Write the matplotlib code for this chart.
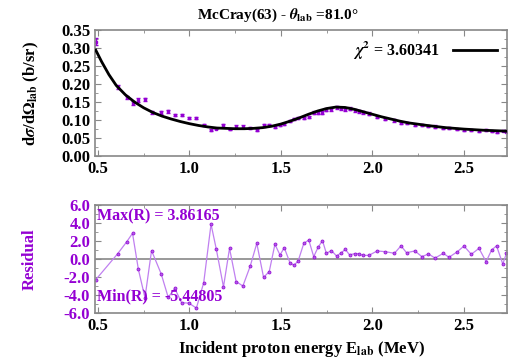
import matplotlib
matplotlib.use("Agg")
import matplotlib.pyplot as plt
from matplotlib.ticker import MultipleLocator, FormatStrFormatter

# incident proton energies (MeV)
energy = [0.488, 0.607, 0.658, 0.689, 0.721, 0.757, 0.793, 0.846, 0.884, 0.920,
          0.957, 0.997, 1.038, 1.078, 1.118, 1.147, 1.186, 1.219, 1.255, 1.292,
          1.332, 1.368, 1.405, 1.436, 1.467, 1.495, 1.518, 1.549, 1.571, 1.594,
          1.625, 1.652, 1.679, 1.703, 1.727, 1.748, 1.776, 1.804, 1.830, 1.852,
          1.875, 1.902, 1.924, 1.947, 1.980, 2.026, 2.071, 2.120, 2.156, 2.186,
          2.232, 2.270, 2.306, 2.342, 2.387, 2.418, 2.464, 2.500, 2.540, 2.582,
          2.621, 2.651, 2.678, 2.712, 2.732]
# measured cross section (b/sr)
xsec = [0.317, 0.192, 0.163, 0.147, 0.155, 0.157, 0.122, 0.121, 0.124, 0.114,
        0.114, 0.105, 0.106, 0.087, 0.073, 0.076, 0.085, 0.074, 0.082, 0.082,
        0.078, 0.073, 0.085, 0.086, 0.081, 0.087, 0.088, 0.098, 0.103, 0.106,
        0.105, 0.109, 0.120, 0.120, 0.120, 0.129, 0.130, 0.135, 0.133, 0.130,
        0.131, 0.127, 0.124, 0.122, 0.117, 0.109, 0.104, 0.099, 0.092, 0.091,
        0.087, 0.086, 0.083, 0.082, 0.078, 0.078, 0.074, 0.072, 0.073, 0.070,
        0.072, 0.069, 0.067, 0.071, 0.068]
xsec_err = [0.010, 0.006, 0.005, 0.005, 0.005, 0.005, 0.004, 0.004, 0.004, 0.004,
            0.004, 0.003, 0.003, 0.003, 0.002, 0.002, 0.003, 0.002, 0.003, 0.003,
            0.003, 0.002, 0.003, 0.003, 0.003, 0.003, 0.003, 0.003, 0.003, 0.003,
            0.003, 0.003, 0.004, 0.004, 0.004, 0.004, 0.004, 0.004, 0.004, 0.004,
            0.004, 0.004, 0.004, 0.004, 0.004, 0.003, 0.003, 0.003, 0.003, 0.003,
            0.003, 0.003, 0.003, 0.003, 0.002, 0.002, 0.002, 0.002, 0.002, 0.002,
            0.002, 0.002, 0.002, 0.002, 0.002]
# residuals
resid = [-2.30, 0.56, 1.93, 2.85, -1.15, -4.30, 0.93, -1.67, -4.26, -3.26,
         -4.85, -4.90, -5.44805, -2.63, 3.86165, 1.07, -3.10, 1.18, -2.50, -3.00,
         -0.80, 1.74, -2.04, -1.40, 1.63, 0.44, 1.26, -0.41, -0.70, -0.22,
         1.74, 2.10, 0.26, 1.30, 2.04, 0.63, 0.93, 0.33, 0.70, 1.07,
         0.45, 0.60, 0.60, 0.40, 0.40, 0.89, 0.81, 0.63, 1.46, 0.70,
         0.89, 0.26, 0.56, 0.10, 0.63, 0.19, 0.81, 1.44, 0.52, 1.18,
         -0.30, 1.00, 1.46, -0.56, 0.63]

# fitted curve
fit_e = [0.488, 0.52, 0.56, 0.60, 0.65, 0.70, 0.75, 0.80, 0.85, 0.90, 0.95,
         1.00, 1.05, 1.10, 1.15, 1.20, 1.25, 1.30, 1.35, 1.40, 1.45, 1.50,
         1.55, 1.60, 1.65, 1.70, 1.75, 1.80, 1.85, 1.90, 1.95, 2.00, 2.05,
         2.10, 2.15, 2.20, 2.30, 2.40, 2.50, 2.60, 2.70, 2.732]
fit_y = [0.294, 0.262, 0.226, 0.196, 0.170, 0.150, 0.134, 0.121, 0.111, 0.103, 0.096,
         0.090, 0.085, 0.081, 0.078, 0.077, 0.076, 0.076, 0.077, 0.079, 0.083, 0.089,
         0.097, 0.106, 0.116, 0.125, 0.132, 0.136, 0.135, 0.130, 0.123, 0.116, 0.109,
         0.103, 0.097, 0.092, 0.085, 0.079, 0.075, 0.072, 0.070, 0.069]

chi2 = 3.60341
purple = "#9400D3"

plt.rcParams["font.family"] = ["Liberation Serif", "DejaVu Serif"]
plt.rcParams["font.weight"] = "bold"
plt.rcParams["mathtext.fontset"] = "stix"

fig = plt.figure(figsize=(5.08, 3.64), dpi=100)
ax1 = fig.add_axes([0.187, 0.571, 0.811, 0.347])
ax2 = fig.add_axes([0.187, 0.140, 0.811, 0.297])

ax1.errorbar(energy, xsec, yerr=xsec_err, fmt="s", ms=1.8, color=purple,
             ecolor=purple, elinewidth=1, capsize=1.5, zorder=2)
ax1.plot(fit_e, fit_y, color="black", lw=2, zorder=3,
         label=r"$\chi^2$ = %.5f" % chi2)
ax1.legend(loc="upper right", frameon=False, fontsize=11.5, handlelength=2.8,
           borderaxespad=0.2, handletextpad=0.8, markerfirst=False)
ax1.set_ylim(0, 0.35)
ax1.yaxis.set_major_locator(MultipleLocator(0.05))
ax1.yaxis.set_minor_locator(MultipleLocator(0.025))
ax1.yaxis.set_major_formatter(FormatStrFormatter("%.2f"))
ax1.set_ylabel(r"d$\sigma$/d$\Omega_{\rm lab}$ (b/sr)", fontsize=12, fontweight="bold")
ax1.set_title(r"McCray(63) - $\theta_{\rm lab}$ =81.0°", fontsize=11,
              fontweight="bold", pad=8, x=0.444)

ax2.axhline(0, color="#888888", lw=1.2, zorder=1)
ax2.plot(energy, resid, color="#c080f0", lw=0.9, marker="o", ms=2.2,
         mfc="#b060e8", mec=purple, mew=0.5, zorder=2)
ax2.set_ylim(-6, 6)
ax2.yaxis.set_major_locator(MultipleLocator(2))
ax2.yaxis.set_minor_locator(MultipleLocator(1))
ax2.yaxis.set_major_formatter(FormatStrFormatter("%.1f"))
ax2.set_ylabel("Residual", color=purple, fontsize=12, fontweight="bold")
ax2.set_xlabel(r"Incident proton energy E$_{\rm lab}$ (MeV)", fontsize=12,
               fontweight="bold")
ax2.text(0.005, 0.89, "Max(R) = %.5f" % max(resid), transform=ax2.transAxes,
         color=purple, fontsize=11.5, fontweight="bold", va="center")
ax2.text(0.005, 0.15, "Min(R) = %.5f" % min(resid), transform=ax2.transAxes,
         color=purple, fontsize=11.5, fontweight="bold", va="center")

for ax in (ax1, ax2):
    ax.set_xlim(0.484, 2.735)
    ax.xaxis.set_major_locator(MultipleLocator(0.5))
    ax.xaxis.set_minor_locator(MultipleLocator(0.25))
    ax.xaxis.set_major_formatter(FormatStrFormatter("%.1f"))
    ax.tick_params(which="both", direction="in", top=True, right=True,
                   color="#888888", labelsize=12)
    ax.tick_params(which="major", length=4)
    ax.tick_params(which="minor", length=2.5)
    for s in ax.spines.values():
        s.set_color("#888888")
        s.set_linewidth(1.2)
    for lab in ax.get_xticklabels() + ax.get_yticklabels():
        lab.set_fontweight("bold")

for lab in ax2.get_yticklabels():
    lab.set_color(purple)
ax1.yaxis.set_label_coords(-0.131, 0.5)
ax2.yaxis.set_label_coords(-0.138, 0.5)

fig.savefig("out.png", dpi=100)
